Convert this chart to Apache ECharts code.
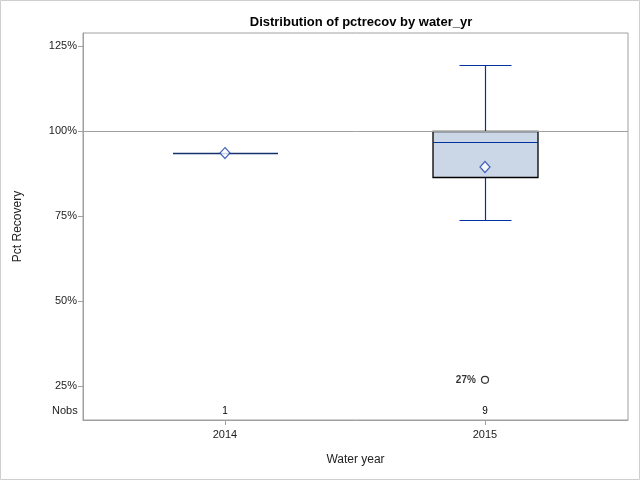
<!DOCTYPE html>
<html><head><meta charset="utf-8">
<script src="https://cdn.jsdelivr.net/npm/echarts@6/dist/echarts.min.js"></script>
<style>html,body{margin:0;padding:0;background:#fff}#c{width:640px;height:480px}</style>
</head><body><div id="c"></div>
<script>
// Data
var years = [2014, 2015];
var whiskerLow = [93.5, 73.8];
var q1 = [93.5, 86.5];
var median = [93.5, 96.8];
var q3 = [93.5, 100.0];
var whiskerHigh = [93.5, 119.3];
var means = [93.5, 89.4];
var nobs = [1, 9];
var outlierYear = [2015];
var outlierValue = [26.8];
var outlierLabel = ['27%'];
var yTicks = [25, 50, 75, 100, 125];

var FONT = '"Liberation Sans", Arial, sans-serif';
var boxData = years.map(function (y, i) { return [y, whiskerLow[i], q1[i], median[i], q3[i], whiskerHigh[i]]; });

var chart = echarts.init(document.getElementById('c'), null, {renderer: 'canvas'});
chart.setOption({
  animation: false,
  backgroundColor: '#fff',
  title: {
    text: 'Distribution of pctrecov by water_yr',
    left: 356, top: 11, textAlign: 'center',
    textStyle: {fontFamily: FONT, fontSize: 13, fontWeight: 'bold', color: '#000'}
  },
  graphic: [
    {type: 'rect', shape: {x: 0.5, y: 0.5, width: 639, height: 479}, style: {fill: 'none', stroke: '#cfcfcf', lineWidth: 1}, silent: true},
    {type: 'text', left: 52, top: 405, style: {text: 'Nobs', font: '11px ' + FONT, fill: '#222'}}
  ],
  grid: {left: 83, top: 33, right: 12, bottom: 60, show: true, borderColor: '#a0a0a0', borderWidth: 1, backgroundColor: 'transparent'},
  xAxis: {
    type: 'value', min: 2013.454, max: 2015.55,
    name: 'Water year', nameLocation: 'middle', nameGap: 34,
    nameTextStyle: {fontFamily: FONT, fontSize: 12, color: '#222'},
    axisLine: {show: true, lineStyle: {color: '#a0a0a0'}},
    axisTick: {show: true, customValues: years, length: 5, lineStyle: {color: '#a0a0a0'}},
    axisLabel: {customValues: years, formatter: function (v) { return String(v); }, fontFamily: FONT, fontSize: 11, color: '#222', margin: 9},
    splitLine: {show: false}
  },
  yAxis: {
    type: 'value', min: 15, max: 128.8,
    name: 'Pct Recovery', nameLocation: 'middle', nameGap: 59, nameRotate: 90,
    nameTextStyle: {fontFamily: FONT, fontSize: 12, color: '#222'},
    axisLine: {show: true, lineStyle: {color: '#a0a0a0'}},
    axisTick: {show: true, customValues: yTicks, length: 5, lineStyle: {color: '#a0a0a0'}},
    axisLabel: {customValues: yTicks, formatter: function (v) { return v + '%'; }, fontFamily: FONT, fontSize: 11, color: '#222', margin: 6},
    splitLine: {show: false}
  },
  series: [
    {
      type: 'custom',
      data: boxData,
      encode: {x: 0, y: [1, 2, 3, 4, 5]},
      markLine: {
        silent: true, symbol: 'none', label: {show: false},
        lineStyle: {color: '#a0a0a0', type: 'solid', width: 1},
        data: [{yAxis: 100}]
      },
      renderItem: function (params, api) {
        var x = api.value(0);
        var pLow = api.coord([x, api.value(1)]);
        var pQ1 = api.coord([x, api.value(2)]);
        var pMed = api.coord([x, api.value(3)]);
        var pQ3 = api.coord([x, api.value(4)]);
        var pHigh = api.coord([x, api.value(5)]);
        var cx = Math.round(pMed[0]) + 0.5;
        var half = 52.5, cap = 26;
        var blue = '#0033a0';
        var single = api.value(1) === api.value(5);
        var ch = [];
        var snap = function (v) { return Math.round(v) + 0.5; };
        if (!single) {
          ch.push({type: 'line', shape: {x1: cx, y1: snap(pHigh[1]), x2: cx, y2: snap(pQ3[1])}, style: {stroke: blue, lineWidth: 1.2}});
          ch.push({type: 'line', shape: {x1: cx, y1: snap(pQ1[1]), x2: cx, y2: snap(pLow[1])}, style: {stroke: blue, lineWidth: 1.2}});
          ch.push({type: 'line', shape: {x1: cx - cap, y1: snap(pHigh[1]), x2: cx + cap, y2: snap(pHigh[1])}, style: {stroke: blue, lineWidth: 1.2}});
          ch.push({type: 'line', shape: {x1: cx - cap, y1: snap(pLow[1]), x2: cx + cap, y2: snap(pLow[1])}, style: {stroke: blue, lineWidth: 1.2}});
          ch.push({type: 'rect', shape: {x: cx - half, y: snap(pQ3[1]), width: 2 * half, height: snap(pQ1[1]) - snap(pQ3[1])}, style: {fill: '#cbd6e6', stroke: '#000', lineWidth: 1.3}});
          ch.push({type: 'line', shape: {x1: cx - half, y1: snap(pMed[1]), x2: cx + half, y2: snap(pMed[1])}, style: {stroke: blue, lineWidth: 1.2}});
        } else {
          ch.push({type: 'line', shape: {x1: cx - half, y1: snap(pMed[1]), x2: cx + half, y2: snap(pMed[1])}, style: {stroke: '#16306e', lineWidth: 1.5}});
        }
        return {type: 'group', children: ch};
      },
      z: 2
    },
    {
      type: 'scatter',
      data: years.map(function (y, i) { return [y, means[i]]; }),
      symbol: 'diamond', symbolSize: [10, 11],
      itemStyle: {color: '#fff', borderColor: '#1a44aa', borderWidth: 1.2},
      z: 5
    },
    {
      type: 'scatter',
      data: outlierYear.map(function (y, i) { return {value: [y, outlierValue[i]], label: {formatter: outlierLabel[i]}}; }),
      symbol: 'circle', symbolSize: 7,
      itemStyle: {color: '#fff', borderColor: '#000', borderWidth: 1.2},
      label: {show: true, position: 'left', distance: 5, fontFamily: FONT, fontSize: 10, fontWeight: 'bold', color: '#000'},
      z: 5
    },
    {
      type: 'custom',
      data: years.map(function (y, i) { return [y, nobs[i]]; }),
      encode: {x: 0},
      renderItem: function (params, api) {
        var p = api.coord([api.value(0), 15]);
        return {type: 'text', style: {text: String(api.value(1)), x: p[0], y: p[1] - 9, align: 'center', verticalAlign: 'middle', font: '10px ' + FONT, fill: '#000'}};
      },
      z: 5
    }
  ]
});
</script></body></html>
